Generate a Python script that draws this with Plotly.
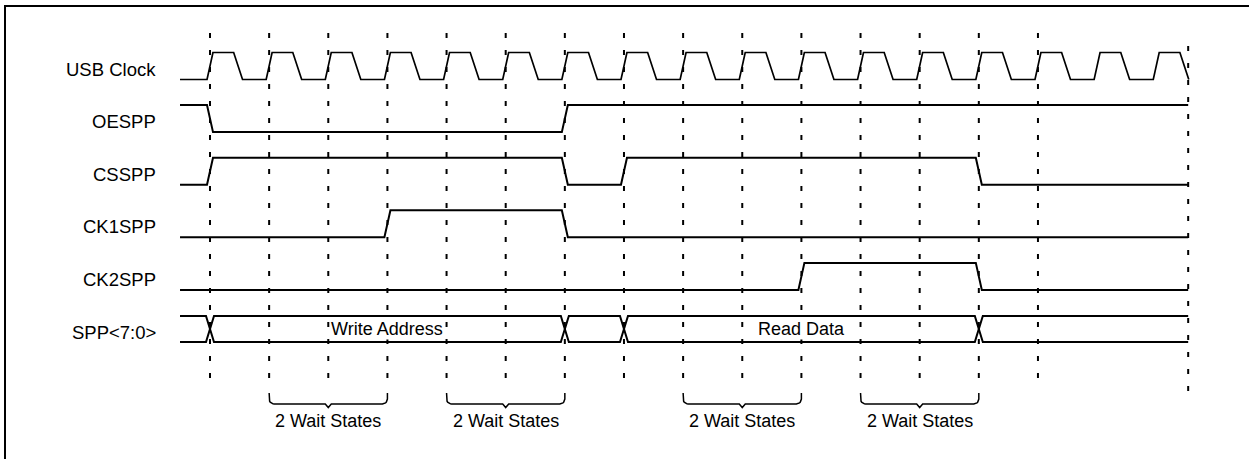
import numpy as np
import plotly.graph_objects as go

# ---------------- data (time in USB clock cycles) ----------------
signal_names = ["USB Clock", "OESPP", "CSSPP", "CK1SPP", "CK2SPP", "SPP&lt;7:0&gt;"]
clock_rising_edges = list(range(0, 17))
oespp_initial, oespp_edges = 1, [0, 6]
csspp_initial, csspp_edges = 0, [0, 6, 7, 13]
ck1spp_initial, ck1spp_edges = 0, [3, 6]
ck2spp_initial, ck2spp_edges = 0, [10, 13]
bus_edges = [0, 6, 7, 13]
bus_label_text = ["Write Address", "Read Data"]
bus_label_start = [0, 7]
bus_label_end = [6, 13]
wait_label_text = ["2 Wait States", "2 Wait States", "2 Wait States", "2 Wait States"]
wait_start = [1, 4, 8, 11]
wait_end = [3, 6, 10, 13]
grid_cycles = list(range(0, 15))
start_time = -0.507
end_time = 16.54

# ---------------- geometry / style ----------------
W, H = 1249, 459
PX_PER_CYCLE = 59.14
X0_PX = 210.0
ROW_PITCH = 52.6
ROW0_PX = 66.0


def dx(p):
    return p / PX_PER_CYCLE


def yv(p):
    return (p - ROW0_PX) / ROW_PITCH


def dy(p):
    return p / ROW_PITCH


AMP = dy(13.5)
BUS_AMP = dy(13.0)
RAMP = dx(6)
BUS_RAMP = dx(8)
LINE_W = 2
FONT = "Liberation Sans, Arial, sans-serif"

fig = go.Figure()


def add_line(xs, ys, width=LINE_W, dash=None):
    fig.add_trace(go.Scatter(x=xs, y=ys, mode="lines",
                             line=dict(color="black", width=width, dash=dash),
                             hoverinfo="skip", showlegend=False))


def digital(initial, edges, ramp):
    xs, ls = [start_time], [initial]
    level = initial
    for e in edges:
        xs += [e - ramp / 2, e + ramp / 2]
        ls += [level, 1 - level]
        level = 1 - level
    xs.append(end_time)
    ls.append(level)
    return xs, ls


def lvl_to_y(row, levels, amp):
    return [row + (amp if l == 0 else -amp) for l in levels]


# dashed grid lines
for k in grid_cycles:
    add_line([k, k], [yv(33), yv(390)], width=2, dash="5px,12px")
add_line([end_time, end_time], [yv(46), yv(402)], width=2, dash="5px,12px")

# clock
cx, cl = [start_time], [0]
for k in clock_rising_edges:
    pts = [(k - 0.05, 0), (k + 0.05, 1), (k + 0.40, 1), (k + 0.55, 0)]
    for t, l in pts:
        cx.append(t)
        cl.append(l)
add_line(cx, lvl_to_y(0, cl, AMP), width=1.7)

# digital signals
for row, (init, edges) in enumerate([(oespp_initial, oespp_edges),
                                     (csspp_initial, csspp_edges),
                                     (ck1spp_initial, ck1spp_edges),
                                     (ck2spp_initial, ck2spp_edges)], start=1):
    xs, ls = digital(init, edges, RAMP)
    add_line(xs, lvl_to_y(row, ls, AMP))

# bus
for init in (1, 0):
    xs, ls = digital(init, bus_edges, BUS_RAMP)
    add_line(xs, lvl_to_y(5, ls, BUS_AMP))

# braces
R = 5.0
for a, b in zip(wait_start, wait_end):
    mid = (a + b) / 2
    ang = np.linspace(0, np.pi / 2, 8)
    xs, ys = [a, a], [yv(393), yv(399)]
    for th in ang:
        xs.append(a + dx(R - R * np.cos(th)))
        ys.append(yv(399 + R * np.sin(th)))
    xs += [mid - dx(3), mid, mid + dx(3)]
    ys += [yv(404), yv(407.5), yv(404)]
    for th in ang[::-1]:
        xs.append(b - dx(R - R * np.cos(th)))
        ys.append(yv(399 + R * np.sin(th)))
    xs += [b, b]
    ys += [yv(399), yv(393)]
    add_line(xs, ys, width=1.5)

annotations = []
for i, name in enumerate(signal_names):
    annotations.append(dict(x=-dx(52), y=i + dy(3), xref="x", yref="y", text=name,
                            showarrow=False, xanchor="right", yanchor="middle",
                            font=dict(family=FONT, size=18.5, color="black")))
for txt, s, e in zip(bus_label_text, bus_label_start, bus_label_end):
    annotations.append(dict(x=(s + e) / 2, y=yv(328.5), xref="x", yref="y", text=txt,
                            showarrow=False, xanchor="center", yanchor="middle",
                            bgcolor="white", borderpad=0,
                            font=dict(family=FONT, size=18, color="black")))
for txt, s, e in zip(wait_label_text, wait_start, wait_end):
    annotations.append(dict(x=(s + e) / 2, y=yv(420.5), xref="x", yref="y", text=txt,
                            showarrow=False, xanchor="center", yanchor="middle",
                            font=dict(family=FONT, size=18, color="black")))

shapes = [
    dict(type="line", xref="paper", yref="paper", x0=5 / W, x1=5 / W,
         y0=1 - 5 / H, y1=-0.02, line=dict(color="black", width=2)),
    dict(type="line", xref="paper", yref="paper", x0=4 / W, x1=1.01,
         y0=1 - 6 / H, y1=1 - 6 / H, line=dict(color="black", width=2)),
]

fig.update_layout(
    width=W, height=H, margin=dict(l=0, r=0, t=0, b=0),
    paper_bgcolor="white", plot_bgcolor="white",
    xaxis=dict(range=[(0 - X0_PX) / PX_PER_CYCLE, (W - X0_PX) / PX_PER_CYCLE],
               visible=False, fixedrange=True),
    yaxis=dict(range=[yv(H), yv(0)], visible=False, fixedrange=True),
    annotations=annotations, shapes=shapes, showlegend=False,
)

fig.write_html("out.html", config={"displayModeBar": False, "staticPlot": True},
               post_script="document.body.style.margin='0';")
